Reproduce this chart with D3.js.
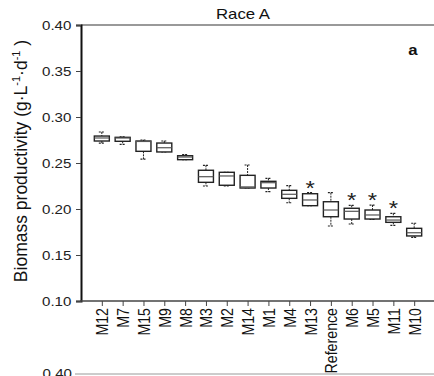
<!DOCTYPE html>
<html><head><meta charset="utf-8">
<script src="https://cdn.jsdelivr.net/npm/d3@7"></script>
<style>body{margin:0;background:#fff}svg{display:block}text{font-family:Arial,"Liberation Sans",sans-serif}</style>
</head><body><svg id="c" width="434" height="376"></svg>
<script>
const categories = ["M12","M7","M15","M9","M8","M3","M2","M14","M1","M4","M13","Reference","M6","M5","M11","M10"];
const whiskerMax = [0.2837,0.2784,0.2750,0.2739,0.2592,0.2475,0.2399,0.2478,0.2333,0.2253,0.2177,0.2177,0.2040,0.2043,0.1953,0.1845];
const q3         = [0.2793,0.2779,0.2739,0.2717,0.2579,0.2421,0.2399,0.2366,0.2301,0.2203,0.2166,0.2079,0.2008,0.1989,0.1916,0.1790];
const medians    = [0.2772,0.2772,0.2734,0.2666,0.2565,0.2351,0.2359,0.2240,0.2286,0.2160,0.2098,0.1989,0.1975,0.1935,0.1880,0.1742];
const q1         = [0.2739,0.2736,0.2627,0.2620,0.2536,0.2290,0.2258,0.2228,0.2228,0.2116,0.2036,0.1916,0.1891,0.1891,0.1855,0.1707];
const whiskerMin = [0.2717,0.2703,0.2543,0.2620,0.2536,0.2250,0.2250,0.2228,0.2188,0.2068,0.2036,0.1815,0.1837,0.1886,0.1823,0.1692];
const significant = ["M13","M6","M5","M11"];
const yTicks = [0.10,0.15,0.20,0.25,0.30,0.35,0.40];

const svg = d3.select("#c");
const L = 81, R = 435, T = 25, B = 301;
const SX = 1.2; // horizontal stretch of the reference lettering
const x = d3.scalePoint().domain(categories).range([L, R]).padding(1);
const y = d3.scaleLinear().domain([0.10, 0.40]).range([B, T]);

svg.append("line").attr("x1", L).attr("x2", 434).attr("y1", T).attr("y2", T)
  .attr("stroke", "#777").attr("stroke-width", 1.3);

svg.append("text").attr("transform", `translate(243,19) scale(${SX},1)`).attr("text-anchor", "middle")
  .attr("font-size", 14).attr("fill", "#111").text("Race A");
svg.append("text").attr("transform", `translate(413,55) scale(${SX},1)`).attr("text-anchor", "middle")
  .attr("font-size", 14).attr("font-weight", "bold").attr("fill", "#111").text("a");

const ya = svg.append("g").attr("transform", `translate(${L},0)`)
  .call(d3.axisLeft(y).tickValues(yTicks).tickFormat(d3.format(".2f")).tickSize(5).tickPadding(3));
ya.select(".domain").attr("stroke", "#111").attr("stroke-width", 2);
ya.selectAll(".tick line").attr("stroke", "#444");
ya.selectAll(".tick text").attr("font-size", 12.6).attr("fill", "#222")
  .attr("font-family", "Arial,'Liberation Sans',sans-serif")
  .attr("transform", `scale(${SX},1)`);

const xa = svg.append("g").attr("transform", `translate(0,${B})`)
  .call(d3.axisBottom(x).tickSize(5).tickSizeOuter(0));
xa.select(".domain").attr("stroke", "#444").attr("stroke-width", 1.3).attr("d", `M${L},0H434`);
xa.selectAll(".tick line").attr("stroke", "#444");
xa.selectAll(".tick text").attr("font-size", 14.2).attr("fill", "#111")
  .attr("font-family", "Arial,'Liberation Sans',sans-serif")
  .attr("transform", `scale(${SX},1) rotate(-90)`).attr("text-anchor", "end")
  .attr("x", -7).attr("y", 0).attr("dy", "0.35em");

const yl = svg.append("text").attr("transform", "translate(27,161) rotate(-90)")
  .attr("text-anchor", "middle").attr("font-size", 17.5).attr("fill", "#111");
yl.append("tspan").text("Biomass productivity (g·L");
yl.append("tspan").attr("font-size", 11).attr("dy", -7).text("-1");
yl.append("tspan").attr("dy", 7).text("·d");
yl.append("tspan").attr("font-size", 11).attr("dy", -7).text("-1");
yl.append("tspan").attr("dy", 7).text(" )");

const bw = 15, cw = 6;
const data = categories.map((c, i) => ({c, hi: whiskerMax[i], q3: q3[i], med: medians[i], q1: q1[i], lo: whiskerMin[i]}));
const g = svg.append("g");
const box = g.selectAll("g.box").data(data).join("g").attr("class", "box")
  .attr("transform", d => `translate(${x(d.c)},0)`);
box.append("line").attr("x1", 0).attr("x2", 0).attr("y1", d => y(d.hi)).attr("y2", d => y(d.q3))
  .attr("stroke", "#222").attr("stroke-width", 1).attr("stroke-dasharray", "2,1");
box.append("line").attr("x1", 0).attr("x2", 0).attr("y1", d => y(d.q1)).attr("y2", d => y(d.lo))
  .attr("stroke", "#222").attr("stroke-width", 1).attr("stroke-dasharray", "2,1");
box.append("line").attr("x1", -cw/2).attr("x2", cw/2).attr("y1", d => y(d.hi)).attr("y2", d => y(d.hi))
  .attr("stroke", "#222").attr("stroke-width", 1.2).attr("stroke-dasharray", "2,1");
box.append("line").attr("x1", -cw/2).attr("x2", cw/2).attr("y1", d => y(d.lo)).attr("y2", d => y(d.lo))
  .attr("stroke", "#222").attr("stroke-width", 1.2).attr("stroke-dasharray", "2,1");
box.append("rect").attr("x", -bw/2).attr("width", bw)
  .attr("y", d => y(d.q3)).attr("height", d => Math.max(1, y(d.q1) - y(d.q3)))
  .attr("fill", "#fff").attr("stroke", "#222").attr("stroke-width", 1.4);
box.append("line").attr("x1", -bw/2).attr("x2", bw/2).attr("y1", d => y(d.med)).attr("y2", d => y(d.med))
  .attr("stroke", "#555").attr("stroke-width", 1.2);

g.selectAll("text.sig").data(data.filter(d => significant.includes(d.c))).join("text")
  .attr("class", "sig").attr("transform", d => `translate(${x(d.c)},${y(d.hi) + 2}) scale(${SX},1)`)
  .attr("text-anchor", "middle").attr("font-size", 20).attr("fill", "#222").text("*");

svg.append("line").attr("x1", 75).attr("x2", 434).attr("y1", 374).attr("y2", 374)
  .attr("stroke", "#999").attr("stroke-width", 1.2);
svg.append("text").attr("transform", `translate(72,378) scale(${SX},1)`).attr("text-anchor", "end")
  .attr("font-size", 12.6).attr("fill", "#222").text("0.40");
</script></body></html>
